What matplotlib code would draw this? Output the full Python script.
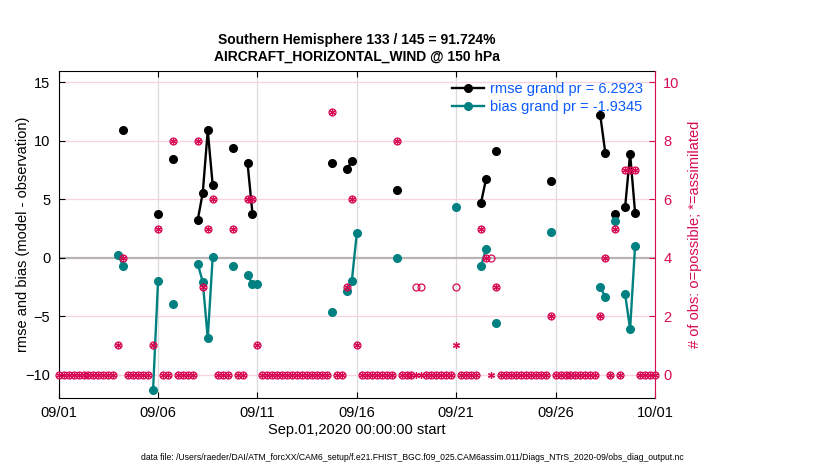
import matplotlib
matplotlib.use("Agg")
import matplotlib.pyplot as plt
import numpy as np

plt.rcParams['font.family'] = ['Liberation Sans', 'DejaVu Sans']

# 6-hourly bins from 2020-09-01 00Z to 2020-10-01 00Z (121 bins).
# Every bin not listed below has 0 possible and 0 assimilated obs.
n_bins = 121
bin_hours = 6

obs_bins   = [12, 13, 19, 20, 23, 28, 29, 30, 31, 35, 38, 39, 40,
              55, 58, 59, 60, 68, 72, 73, 80, 85, 86, 87, 88,
              99, 109, 110, 112, 114, 115, 116]
n_possible = [1, 4, 1, 5, 8, 8, 3, 5, 6, 5, 6, 6, 1,
              9, 3, 6, 1, 8, 3, 3, 3, 5, 4, 4, 3,
              2, 2, 4, 5, 7, 7, 7]
n_assim    = [1, 4, 1, 5, 8, 8, 3, 5, 6, 5, 6, 6, 1,
              9, 3, 6, 1, 8, 0, 0, 1, 5, 4, 0, 3,
              2, 2, 4, 5, 7, 7, 7]
nan = np.nan
rmse_vals  = [nan, 10.89, nan, 3.78, 8.41, 3.27, 5.58, 10.89, 6.20, 9.41, 8.13, 3.78, nan,
              8.13, 7.56, 8.27, nan, 5.83, nan, nan, nan, 4.72, 6.71, nan, 9.10,
              6.54, 12.17, 8.99, 3.78, 4.35, 8.90, 3.87]
bias_vals  = [0.23, -0.71, -11.28, -1.96, -3.97, -0.54, -2.07, -6.87, 0.09, -0.71, -1.47, -2.24, -2.24,
              -4.65, -2.84, -1.96, 2.11, -0.03, nan, nan, 4.32, -0.71, 0.74, nan, -5.59,
              2.17, -2.47, -3.38, 3.13, -3.12, -6.10, 1.00]

rmse_label = 'rmse grand pr = 6.2923'
bias_label = 'bias grand pr = -1.9345'
tick_days = [0, 5, 10, 15, 20, 25, 30]
tick_labels = ['09/01', '09/06', '09/11', '09/16', '09/21', '09/26', '10/01']

title = 'Southern Hemisphere 133 / 145 = 91.724%\nAIRCRAFT_HORIZONTAL_WIND @ 150 hPa'
data_file = ('data file: /Users/raeder/DAI/ATM_forcXX/CAM6_setup/f.e21.FHIST_BGC.f09_025.'
             'CAM6assim.011/Diags_NTrS_2020-09/obs_diag_output.nc')

crimson = '#D70A53'
teal = '#008080'
legend_blue = '#0A5AFF'

# expand sparse lists onto the full bin axis
days = np.arange(n_bins) * bin_hours / 24.0
possible = np.zeros(n_bins)
assim = np.zeros(n_bins)
rmse = np.full(n_bins, np.nan)
bias = np.full(n_bins, np.nan)
possible[obs_bins] = n_possible
assim[obs_bins] = n_assim
rmse[obs_bins] = rmse_vals
bias[obs_bins] = bias_vals

fig = plt.figure(figsize=(8.3, 4.7), dpi=100)
ax = fig.add_axes([0.0707, 0.153, 0.7184, 0.6966])

# grid: vertical gray, horizontal pink (right-axis colour)
for d in tick_days:
    ax.axvline(d, color='#dcdcdc', lw=0.9, zorder=0)
for v in [-10, -5, 5, 10, 15]:
    ax.axhline(v, color='#f6d3de', lw=0.9, zorder=0)
ax.axhline(0, color='#b9b3b5', lw=1.6, zorder=0.5)

ax.plot(days, rmse, '-o', color='k', lw=1.7, ms=5.5, label=rmse_label, zorder=2)
ax.plot(days, bias, '-o', color=teal, lw=1.7, ms=5.5, label=bias_label, zorder=3)

ax.set_xlim(0, 30)
ax.set_ylim(-12, 16)
ax.set_xticks(tick_days)
ax.set_xticklabels(tick_labels)
ax.set_yticks([-10, -5, 0, 5, 10, 15])
ax.tick_params(axis='both', direction='in', length=4, width=0.8, labelsize=10.5,
               top=True, pad=6)
ax.tick_params(axis='x', pad=6)
ax.set_xlabel('Sep.01,2020 00:00:00 start', fontsize=10.5, labelpad=2)
ax.set_ylabel('rmse and bias (model - observation)', fontsize=10.5, labelpad=-3)
ax.set_title(title, fontsize=10, fontweight='bold', pad=7, linespacing=1.25)
for s in ['left', 'top', 'bottom']:
    ax.spines[s].set_linewidth(0.8)
ax.spines['right'].set_visible(False)

leg = ax.legend(loc='upper right', frameon=False, fontsize=10.5, labelcolor=legend_blue,
                handlelength=2.2, handletextpad=0.4, borderaxespad=0.4,
                labelspacing=0.25)

ax2 = ax.twinx()
ax2.plot(days, possible, ls='none', marker='o', mfc='none', mec=crimson, ms=5, mew=0.9,
         clip_on=False)
ax2.plot(days, assim, ls='none', marker=(6, 2, 0), color=crimson, ms=5, mew=0.9,
         clip_on=False)
ax2.set_ylim(-0.8, 10.4)
ax2.set_yticks([0, 2, 4, 6, 8, 10])
ax2.tick_params(axis='y', direction='in', length=4, width=0.8, labelsize=10.5,
                colors=crimson, pad=6)
ax2.spines['right'].set_color(crimson)
ax2.spines['right'].set_linewidth(0.8)
for s in ['left', 'top', 'bottom']:
    ax2.spines[s].set_visible(False)
ax2.set_ylabel('# of obs: o=possible; *=assimilated', color=crimson, fontsize=10.5,
               labelpad=6)

fig.text(0.497, 1 - 457 / 470, data_file, ha='center', va='center', fontsize=6.2)

fig.savefig('out.png', dpi=100)
